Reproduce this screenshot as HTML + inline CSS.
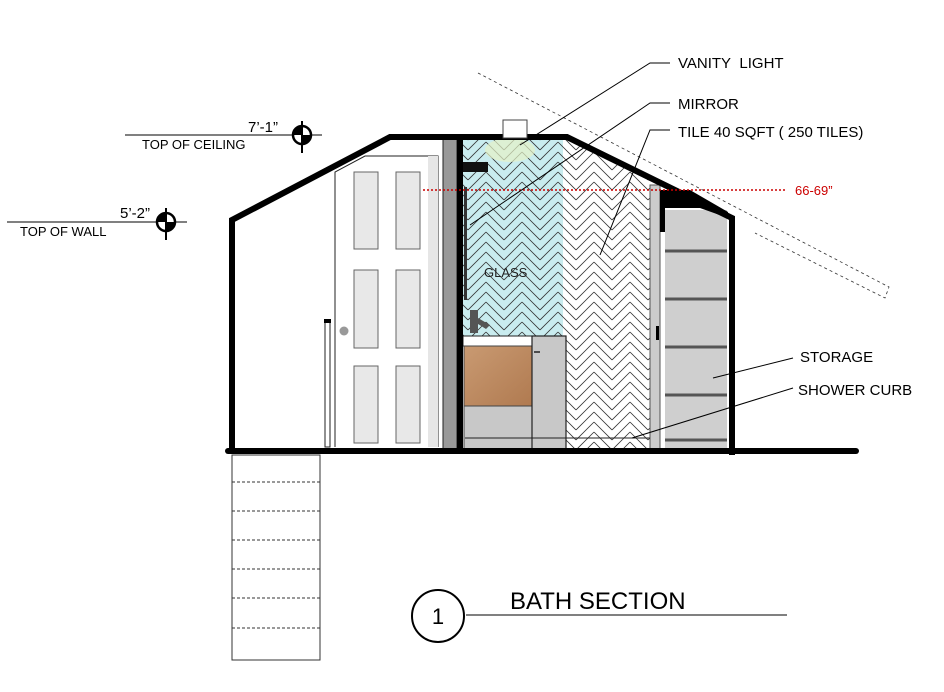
<!DOCTYPE html>
<html><head><meta charset="utf-8"><style>
html,body{margin:0;padding:0;background:#fff;}
svg{display:block;}
text{font-family:"Liberation Sans",sans-serif;}
</style></head><body>
<svg width="944" height="692" viewBox="0 0 944 692" xmlns="http://www.w3.org/2000/svg">
<defs>
<pattern id="hb" x="0" y="0" width="36" height="10" patternUnits="userSpaceOnUse">
<path d="M0 0 L18 -18 M0 10 L18 -8 M0 20 L18 2 M18 -18 L36 0 M18 -8 L36 10 M18 2 L36 20" stroke="#333" stroke-width="0.8" fill="none"/>
</pattern>
<linearGradient id="wood" x1="0" x2="1" y1="0" y2="1"><stop offset="0" stop-color="#c99a72"/><stop offset="1" stop-color="#b07a50"/></linearGradient>
</defs>

<path d="M478 73 L889 287 L885 298 L755 233" stroke="#333" stroke-width="0.8" stroke-dasharray="3,3" fill="none"/>

<rect x="232" y="455" width="88" height="205" fill="#fff" stroke="#333" stroke-width="1"/>
<g stroke="#333" stroke-width="1" stroke-dasharray="3,2">
<line x1="232" y1="482" x2="320" y2="482"/><line x1="232" y1="511" x2="320" y2="511"/>
<line x1="232" y1="540" x2="320" y2="540"/><line x1="232" y1="569" x2="320" y2="569"/>
<line x1="232" y1="598" x2="320" y2="598"/><line x1="232" y1="628" x2="320" y2="628"/>
</g>

<rect x="463" y="140" width="100" height="196" fill="#c9ecef"/>
<rect x="463" y="140" width="100" height="196" fill="url(#hb)"/>
<path d="M563 140 L575 140 L650 180 L650 450 L563 450 Z" fill="#fff"/>
<path d="M563 140 L575 140 L650 180 L650 450 L563 450 Z" fill="url(#hb)"/>
<ellipse cx="510" cy="150" rx="25" ry="12" fill="#e6f2c8" opacity="0.7"/>

<rect x="463" y="336" width="72" height="10" fill="#fff" stroke="#222" stroke-width="1"/>
<rect x="464" y="346" width="68" height="60" fill="url(#wood)" stroke="#444" stroke-width="1"/>
<rect x="464" y="406" width="68" height="44" fill="#c8c8c8" stroke="#444" stroke-width="1"/>
<rect x="532" y="336" width="34" height="114" fill="#c8c8c8" stroke="#222" stroke-width="1.2"/>
<line x1="534" y1="352" x2="540" y2="352" stroke="#222" stroke-width="1.5"/>
<path d="M470 310 L478 310 L478 318 L490 325 L486 329 L478 324 L478 333 L470 333 Z" fill="#555"/>
<rect x="463" y="162" width="25" height="10" fill="#111"/>
<rect x="464" y="187" width="3" height="113" fill="#333"/>
<text x="484" y="277" font-size="13" fill="#222">GLASS</text>

<rect x="443" y="138" width="14" height="312" fill="#999" stroke="#222" stroke-width="1"/>
<rect x="457" y="138" width="6" height="312" fill="#000"/>

<rect x="650" y="185" width="10" height="265" fill="#ccc" stroke="#555" stroke-width="1"/>
<rect x="665" y="210" width="62" height="240" fill="#cfcfcf"/>
<path d="M660 190 L690 190 L728 212 L728 218 L700 208 L665 208 L665 232 L660 232 Z" fill="#000"/>
<g stroke="#555" stroke-width="3">
<line x1="665" y1="251" x2="727" y2="251"/><line x1="665" y1="299" x2="727" y2="299"/>
<line x1="665" y1="347" x2="727" y2="347"/><line x1="665" y1="395" x2="727" y2="395"/>
<line x1="665" y1="440" x2="727" y2="440"/>
</g>
<rect x="656" y="326" width="3" height="14" fill="#000"/>
<line x1="465" y1="438" x2="650" y2="438" stroke="#222" stroke-width="1"/>

<path d="M335 447 L335 172 L365 156 L438 156 L438 447" fill="#fff" stroke="#222" stroke-width="1"/>
<rect x="428" y="156" width="10" height="291" fill="#e6e6e6"/>
<g fill="#e8e8e8" stroke="#666" stroke-width="1">
<rect x="354" y="172" width="24" height="77"/><rect x="396" y="172" width="24" height="77"/>
<rect x="354" y="270" width="24" height="78"/><rect x="396" y="270" width="24" height="78"/>
<rect x="354" y="366" width="24" height="77"/><rect x="396" y="366" width="24" height="77"/>
</g>
<circle cx="344" cy="331" r="4.5" fill="#999"/>
<rect x="325" y="320" width="5" height="127" fill="#fff" stroke="#222" stroke-width="1"/>
<rect x="324" y="319" width="7" height="4" fill="#000"/>

<path d="M232 450 L232 220 L390 137 L567 137 L732 218 L732 455" stroke="#000" stroke-width="6" fill="none" stroke-linejoin="miter"/>
<line x1="228" y1="451" x2="856" y2="451" stroke="#000" stroke-width="6" stroke-linecap="round"/>

<rect x="503" y="120" width="24" height="18" fill="#fff" stroke="#444" stroke-width="1"/>

<line x1="423" y1="190" x2="785" y2="190" stroke="#c00" stroke-width="1.5" stroke-dasharray="2,2"/>
<text x="795" y="195" font-size="13" fill="#c00">66-69”</text>

<g stroke="#000" stroke-width="1" fill="none">
<path d="M670 63 L650 63 L520 145"/>
<path d="M670 103 L650 103 L470 225"/>
<path d="M670 130 L650 130 L600 255"/>
<path d="M793 358 L713 378"/>
<path d="M793 388 L632 438"/>
</g>
<g font-size="15" fill="#000">
<text x="678" y="68">VANITY&#160; LIGHT</text>
<text x="678" y="109">MIRROR</text>
<text x="678" y="137">TILE 40 SQFT ( 250 TILES)</text>
<text x="800" y="362">STORAGE</text>
<text x="798" y="395">SHOWER CURB</text>
</g>

<line x1="125" y1="135" x2="322" y2="135" stroke="#000" stroke-width="1"/>
<text x="248" y="132" font-size="15">7’-1”</text>
<text x="142" y="149" font-size="13">TOP OF CEILING</text>
<g transform="translate(302,135)">
<circle r="9" fill="#fff" stroke="#000" stroke-width="2.5"/>
<path d="M0 0 L-9 0 A9 9 0 0 1 0 -9 Z" fill="#000"/><path d="M0 0 L9 0 A9 9 0 0 1 0 9 Z" fill="#000"/>
<line x1="0" y1="-14" x2="0" y2="18" stroke="#000" stroke-width="2"/>
</g>
<line x1="7" y1="222" x2="187" y2="222" stroke="#000" stroke-width="1"/>
<text x="120" y="218" font-size="15">5’-2”</text>
<text x="20" y="236" font-size="13">TOP OF WALL</text>
<g transform="translate(166,222)">
<circle r="9" fill="#fff" stroke="#000" stroke-width="2.5"/>
<path d="M0 0 L-9 0 A9 9 0 0 1 0 -9 Z" fill="#000"/><path d="M0 0 L9 0 A9 9 0 0 1 0 9 Z" fill="#000"/>
<line x1="0" y1="-14" x2="0" y2="18" stroke="#000" stroke-width="2"/>
</g>

<circle cx="438" cy="616" r="26" fill="#fff" stroke="#000" stroke-width="2"/>
<text x="438" y="624" font-size="22" text-anchor="middle">1</text>
<line x1="466" y1="615" x2="787" y2="615" stroke="#000" stroke-width="1"/>
<text x="510" y="609" font-size="24">BATH SECTION</text>
</svg>
</body></html>
